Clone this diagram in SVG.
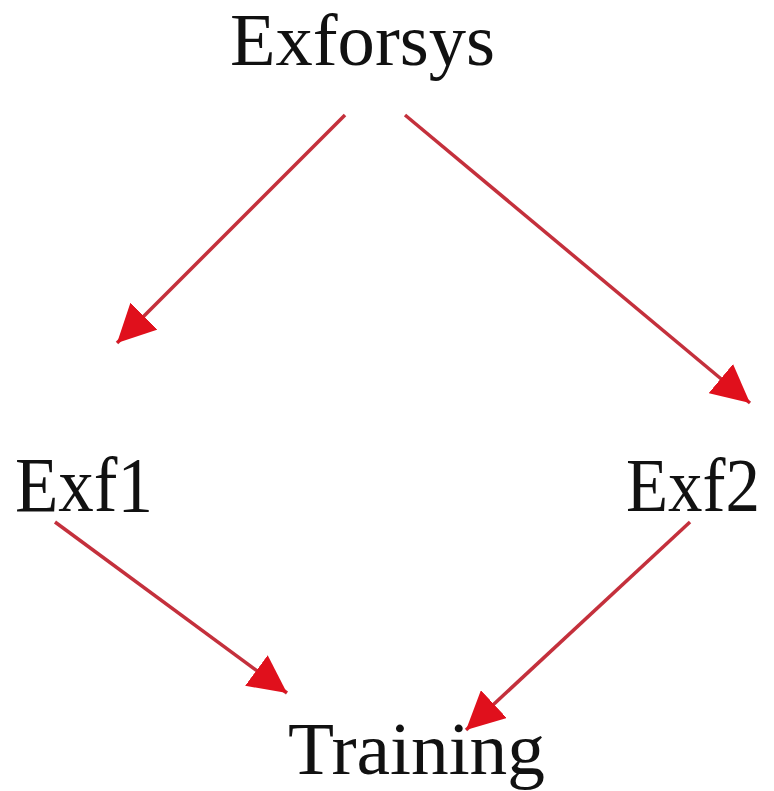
<svg xmlns="http://www.w3.org/2000/svg" width="774" height="791" viewBox="0 0 774 791">
<defs>
<style>
.lbl{font-family:"Liberation Serif","Times New Roman",serif;fill:#111;}
.edge{stroke:#c4303c;stroke-width:3.5;fill:none;}
</style>
<marker id="ah" markerUnits="userSpaceOnUse" markerWidth="40" markerHeight="38" refX="38" refY="19" orient="auto">
<path d="M0,0 L38,19 L0,38 Z" fill="#e0101c"/>
</marker>
</defs>
<rect width="774" height="791" fill="#ffffff"/>
<g id="connectors">
<line class="edge" x1="345" y1="115" x2="117" y2="343" marker-end="url(#ah)"/>
<line class="edge" x1="405" y1="115" x2="750" y2="403" marker-end="url(#ah)"/>
<line class="edge" x1="55" y1="522" x2="287" y2="693" marker-end="url(#ah)"/>
<line class="edge" x1="690" y1="522" x2="466" y2="730" marker-end="url(#ah)"/>
</g>
<g id="exforsys"><text class="lbl" x="230" y="65" font-size="73" textLength="265" lengthAdjust="spacingAndGlyphs">Exforsys</text></g>
<g id="exf1"><text class="lbl" x="15" y="511" font-size="78" textLength="138" lengthAdjust="spacingAndGlyphs">Exf1</text></g>
<g id="exf2"><text class="lbl" x="626" y="511" font-size="76" textLength="134" lengthAdjust="spacingAndGlyphs">Exf2</text></g>
<g id="training"><text class="lbl" x="288" y="774" font-size="75" textLength="257" lengthAdjust="spacingAndGlyphs">Training</text></g>
</svg>
